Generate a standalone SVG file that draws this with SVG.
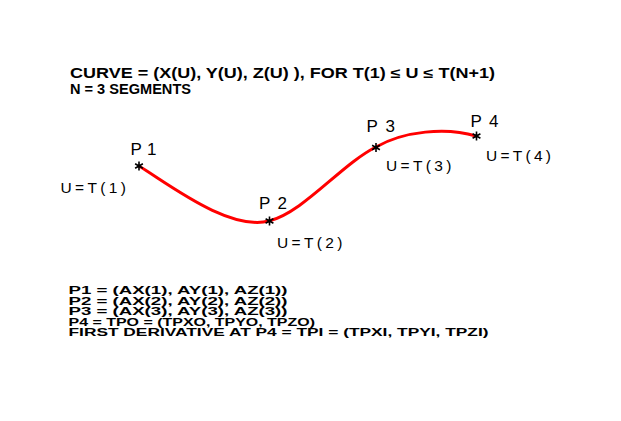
<svg xmlns="http://www.w3.org/2000/svg" width="621" height="421" viewBox="0 0 621 421">
<style>
.note{font-family:"Liberation Sans",Arial,sans-serif;font-weight:bold;fill:#000}
.top{font-size:14px}
.bot{font-size:11.3px}
.pl{font-family:"Liberation Sans",Arial,sans-serif;font-size:17px;fill:#000}
.ul{font-family:"Liberation Sans",Arial,sans-serif;font-size:15.5px;fill:#000}
.curve{fill:none;stroke:#ff0000;stroke-width:3;stroke-linecap:round}
.star{stroke:#000;stroke-width:1.6;fill:none}
</style>
<defs>
<g id="star" class="star"><path d="M0,-4.5V4.5M-3.9,-2.25L3.9,2.25M-3.9,2.25L3.9,-2.25"/></g>
</defs>
<rect width="621" height="421" fill="#fff"/>
<g id="header">
<text class="note top" x="70" y="78" textLength="425" lengthAdjust="spacingAndGlyphs">CURVE = (X(U), Y(U), Z(U) ), FOR T(1) ≤ U ≤ T(N+1)</text>
<text class="note top" x="70" y="93.5" textLength="121" lengthAdjust="spacingAndGlyphs">N = 3 SEGMENTS</text>
</g>
<g id="connectors">
<path class="curve" d="M139,166 C170,185 229,231 269,221 C304,212 341,164.5 376,147 C404,131 446,127 476,136"/>
</g>
<g id="P1">
<use href="#star" x="139" y="166"/>
<text class="pl" x="130.5" y="155" textLength="26">P1</text>
<text class="ul" x="60.5" y="193" textLength="65.5">U=T(1)</text>
</g>
<g id="P2">
<use href="#star" x="269.5" y="221"/>
<text class="pl" x="259" y="209" textLength="28">P2</text>
<text class="ul" x="277" y="247.5" textLength="65.5">U=T(2)</text>
</g>
<g id="P3">
<use href="#star" x="376" y="147.5"/>
<text class="pl" x="366.5" y="131.5" textLength="28.5">P3</text>
<text class="ul" x="386" y="171" textLength="65.5">U=T(3)</text>
</g>
<g id="P4">
<use href="#star" x="476.5" y="136"/>
<text class="pl" x="470.5" y="126.5" textLength="28">P4</text>
<text class="ul" x="486" y="160.5" textLength="65">U=T(4)</text>
</g>
<g id="definitions">
<text class="note bot" x="68.5" y="293.5" textLength="219" lengthAdjust="spacingAndGlyphs">P1 = (AX(1), AY(1), AZ(1))</text>
<text class="note bot" x="68.5" y="304.5" textLength="219" lengthAdjust="spacingAndGlyphs">P2 = (AX(2), AY(2), AZ(2))</text>
<text class="note bot" x="68.5" y="315.2" textLength="219" lengthAdjust="spacingAndGlyphs">P3 = (AX(3), AY(3), AZ(3))</text>
<text class="note bot" x="68.5" y="325.8" textLength="246.5" lengthAdjust="spacingAndGlyphs">P4 = TPO = (TPXO, TPYO, TPZO)</text>
<text class="note bot" x="68.5" y="336.3" textLength="420" lengthAdjust="spacingAndGlyphs">FIRST DERIVATIVE AT P4 = TPI = (TPXI, TPYI, TPZI)</text>
</g>
</svg>
